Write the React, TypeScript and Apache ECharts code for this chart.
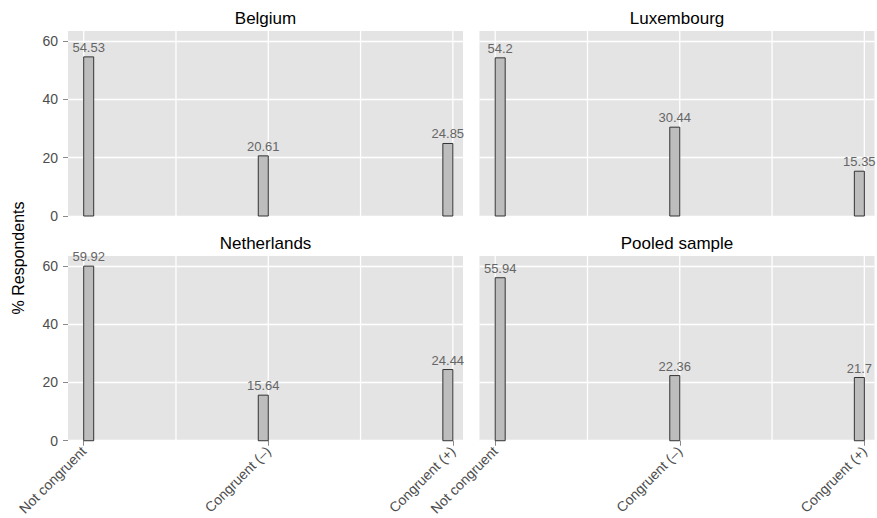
import React, { useEffect, useRef } from "react";
import * as echarts from "echarts";

const categories = ["Not congruent", "Congruent (\u2013)", "Congruent (+)"];
const xPositions = [1, 2, 3];
const xGrid = [1, 1.5, 2, 2.5, 3];
const yTicks = [0, 20, 40, 60];
const panelTitles = ["Belgium", "Luxembourg", "Netherlands", "Pooled sample"];
const belgium = [54.53, 20.61, 24.85];
const luxembourg = [54.2, 30.44, 15.35];
const netherlands = [59.92, 15.64, 24.44];
const pooled = [55.94, 22.36, 21.7];
const panelValues = [belgium, luxembourg, netherlands, pooled];

const FONT = "'Liberation Sans', Arial, Helvetica, sans-serif";

export default function App() {
  const ref = useRef<HTMLDivElement>(null);
  useEffect(() => {
    if (!ref.current) return;
    const chart = echarts.init(ref.current, undefined, { renderer: "svg" });
    const gridDefs = [
      { left: 68, top: 31 },
      { left: 479.5, top: 31 },
      { left: 68, top: 256 },
      { left: 479.5, top: 256 },
    ];
    const W = 395;
    const H = 185;
    const grid = gridDefs.map((g) => ({
      left: g.left,
      top: g.top,
      width: W,
      height: H,
      show: true,
      backgroundColor: "#E4E4E4",
      borderWidth: 0,
    }));
    const xAxis = gridDefs.map((_, i) => ({
      gridIndex: i,
      type: "value",
      min: 0.915,
      max: 3.055,
      axisLine: { show: false },
      splitLine: { show: false },
      axisTick: {
        show: i >= 2,
        customValues: xPositions,
        length: 5,
        lineStyle: { color: "#8a8a8a" },
      },
      axisLabel: {
        show: i >= 2,
        customValues: xPositions,
        rotate: 45,
        margin: 8,
        fontSize: 14,
        fontFamily: FONT,
        color: "#4d4d4d",
        formatter: (v: number) => categories[Math.round(v) - 1] ?? "",
      },
    }));
    const yAxis = gridDefs.map((_, i) => ({
      gridIndex: i,
      type: "value",
      min: 0,
      max: 63.4,
      interval: 20,
      axisLine: { show: false },
      axisTick: {
        show: i % 2 === 0,
        customValues: yTicks,
        length: 5,
        lineStyle: { color: "#8a8a8a" },
      },
      axisLabel: {
        show: i % 2 === 0,
        customValues: yTicks,
        margin: 10,
        fontSize: 14,
        fontFamily: FONT,
        color: "#4d4d4d",
      },
      splitLine: { show: true, lineStyle: { color: "#ffffff", width: 1.3 } },
    }));

    const series: any[] = [];
    panelValues.forEach((vals, i) => {
      series.push({
        type: "custom",
        xAxisIndex: i,
        yAxisIndex: i,
        z: 1,
        silent: true,
        data: xGrid.map((x) => [x]),
        renderItem: (params: any, api: any) => {
          const cs = params.coordSys;
          const p = api.coord([api.value(0), 0]);
          return {
            type: "line",
            shape: { x1: p[0], y1: cs.y, x2: p[0], y2: cs.y + cs.height },
            style: { stroke: "#ffffff", lineWidth: 1.3 },
          };
        },
      });
      series.push({
        type: "custom",
        xAxisIndex: i,
        yAxisIndex: i,
        z: 3,
        data: vals.map((v, k) => [xPositions[k], v]),
        renderItem: (params: any, api: any) => {
          const x = api.value(0);
          const y = api.value(1);
          const top = api.coord([x, y]);
          const base = api.coord([x, 0]);
          const w = 10;
          const left = params.dataIndex === 0 ? top[0] : top[0] - w;
          return {
            type: "group",
            children: [
              {
                type: "rect",
                shape: { x: left, y: top[1], width: w, height: base[1] - top[1] },
                style: { fill: "#BDBDBD", stroke: "#333333", lineWidth: 1 },
              },
              {
                type: "text",
                style: {
                  text: String(y),
                  x: left + w / 2,
                  y: top[1] - 3,
                  align: "center",
                  verticalAlign: "bottom",
                  fill: "#666666",
                  font: `13px ${FONT}`,
                },
              },
            ],
          };
        },
      });
    });

    const graphic: any[] = gridDefs.map((g, i) => ({
      type: "text",
      x: g.left + W / 2,
      y: g.top - 13,
      style: {
        text: panelTitles[i],
        align: "center",
        verticalAlign: "middle",
        fill: "#000000",
        font: `17px ${FONT}`,
      },
    }));
    graphic.push({
      type: "text",
      x: 18,
      y: 258,
      rotation: Math.PI / 2,
      style: {
        text: "% Respondents",
        align: "center",
        verticalAlign: "middle",
        fill: "#000000",
        font: `16px ${FONT}`,
      },
    });

    chart.setOption({
      animation: false,
      backgroundColor: "#ffffff",
      grid,
      xAxis,
      yAxis,
      series,
      graphic,
    });
    return () => chart.dispose();
  }, []);
  return (
    <div
      ref={ref}
      style={{ position: "fixed", left: 0, top: 0, width: 877, height: 518 }}
    />
  );
}
